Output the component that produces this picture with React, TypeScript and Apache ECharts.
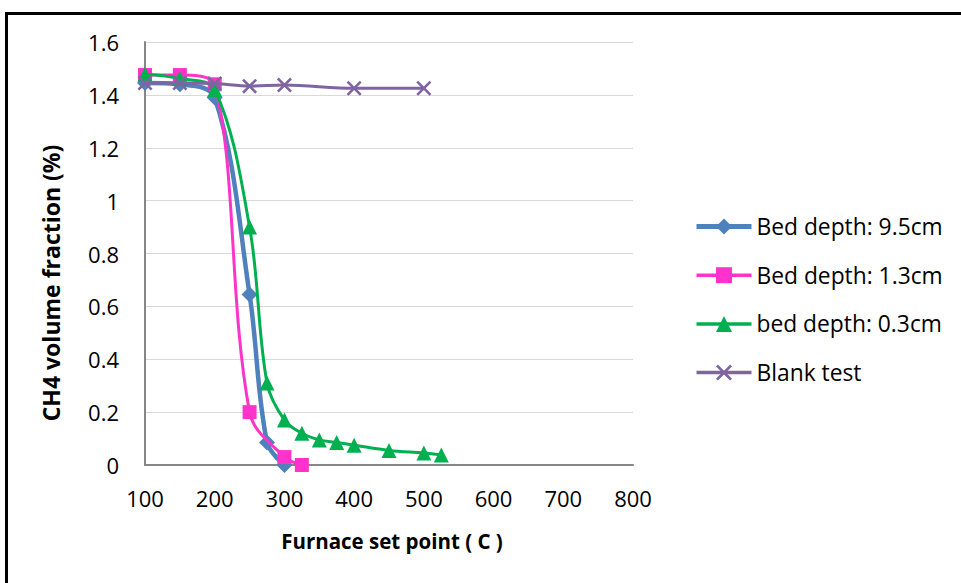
import React, { useEffect, useRef } from "react";
import * as echarts from "echarts";

const xTicks = [100, 200, 300, 400, 500, 600, 700, 800];
const yTicks = [0, 0.2, 0.4, 0.6, 0.8, 1, 1.2, 1.4, 1.6];

const seriesNames = ["Bed depth: 9.5cm", "Bed depth: 1.3cm", "bed depth: 0.3cm", "Blank test"];
const seriesColors = ["#4f81bd", "#ff33cc", "#00b050", "#8064a2"];

const bed95X = [100, 150, 200, 250, 275, 300];
const bed95Y = [1.445, 1.44, 1.39, 0.645, 0.085, 0.0];

const bed13X = [100, 150, 200, 250, 300, 325];
const bed13Y = [1.475, 1.475, 1.44, 0.2, 0.03, 0.0];

const bed03X = [100, 150, 200, 250, 275, 300, 325, 350, 375, 400, 450, 500, 525];
const bed03Y = [1.478, 1.462, 1.42, 0.9, 0.31, 0.17, 0.12, 0.095, 0.085, 0.075, 0.055, 0.045, 0.038];

const blankX = [100, 150, 200, 250, 300, 400, 500];
const blankY = [1.445, 1.445, 1.443, 1.433, 1.437, 1.425, 1.425];

const FONT = "Open Sans";

const xMark =
  "path://M0,1.2L1.2,0L5,3.8L8.8,0L10,1.2L6.2,5L10,8.8L8.8,10L5,6.2L1.2,10L0,8.8L3.8,5Z";

function pairs(xs: number[], ys: number[]) {
  return xs.map((x, i) => [x, ys[i]]);
}

const lineWidths = [4.5, 3, 3, 3];

export default function App() {
  const ref = useRef<HTMLDivElement>(null);
  useEffect(() => {
    if (!ref.current) return;
    const chart = echarts.init(ref.current, null, { renderer: "svg" });
    chart.setOption({
      animation: false,
      backgroundColor: "#ffffff",
      textStyle: { fontFamily: FONT },
      grid: { left: 145, right: 328, top: 42, bottom: 118, containLabel: false },
      xAxis: {
        type: "value",
        min: xTicks[0],
        max: xTicks[xTicks.length - 1],
        interval: 100,
        axisLine: { show: true, onZero: false, lineStyle: { color: "#868686", width: 2 } },
        axisTick: { show: false },
        splitLine: { show: false },
        axisLabel: { color: "#000", fontSize: 22, fontFamily: FONT, margin: 22 },
      },
      yAxis: {
        type: "value",
        min: yTicks[0],
        max: yTicks[yTicks.length - 1],
        interval: 0.2,
        axisLine: { show: true, lineStyle: { color: "#868686", width: 2 } },
        axisTick: { show: false },
        splitLine: { show: true, lineStyle: { color: "#d9d9d9", width: 1 } },
        axisLabel: { color: "#000", fontSize: 22, fontFamily: FONT, margin: 26 },
      },
      legend: {
        orient: "vertical",
        left: 694,
        top: 213,
        padding: 0,
        itemWidth: 55,
        itemHeight: 20,
        itemGap: 21.7,
        textStyle: { fontSize: 22.8, fontFamily: FONT, color: "#000", lineHeight: 27 },
        data: seriesNames.map((n, i) => ({
          name: n,
          lineStyle: { width: lineWidths[i] + 0.5, color: seriesColors[i] },
        })),
      },
      series: [
        {
          name: seriesNames[0],
          type: "line",
          smooth: 0.35,
          data: pairs(bed95X, bed95Y),
          symbol: "diamond",
          symbolSize: 16,
          lineStyle: { color: seriesColors[0], width: lineWidths[0] },
          itemStyle: { color: seriesColors[0] },
          z: 2,
        },
        {
          name: seriesNames[1],
          type: "line",
          smooth: 0.35,
          data: pairs(bed13X, bed13Y),
          symbol: "rect",
          symbolSize: 14,
          lineStyle: { color: seriesColors[1], width: lineWidths[1] },
          itemStyle: { color: seriesColors[1] },
          z: 3,
        },
        {
          name: seriesNames[2],
          type: "line",
          smooth: 0.35,
          data: pairs(bed03X, bed03Y),
          symbol: "triangle",
          symbolSize: 15,
          lineStyle: { color: seriesColors[2], width: lineWidths[2] },
          itemStyle: { color: seriesColors[2] },
          z: 4,
        },
        {
          name: seriesNames[3],
          type: "line",
          smooth: 0.35,
          data: pairs(blankX, blankY),
          symbol: xMark,
          symbolSize: 15,
          lineStyle: { color: seriesColors[3], width: lineWidths[3] },
          itemStyle: { color: seriesColors[3] },
          z: 5,
        },
      ],
      graphic: [
        {
          type: "rect",
          shape: { x: 6.5, y: 13.5, width: 1100, height: 700 },
          style: { fill: "none", stroke: "#000", lineWidth: 3 },
          silent: true,
        },
        {
          type: "text",
          x: 392,
          y: 541,
          style: {
            text: "Furnace set point ( C )",
            font: `bold 20.5px "${FONT}"`,
            fill: "#000",
            textAlign: "center",
            textVerticalAlign: "middle",
          },
        },
        {
          type: "text",
          x: 51,
          y: 283,
          rotation: Math.PI / 2,
          style: {
            text: "CH4 volume fraction (%)",
            font: `bold 23px "${FONT}"`,
            fill: "#000",
            textAlign: "center",
            textVerticalAlign: "middle",
          },
        },
      ],
    });
    return () => chart.dispose();
  }, []);
  return (
    <div
      ref={ref}
      style={{ position: "fixed", left: 0, top: 0, width: 961, height: 583 }}
    />
  );
}
